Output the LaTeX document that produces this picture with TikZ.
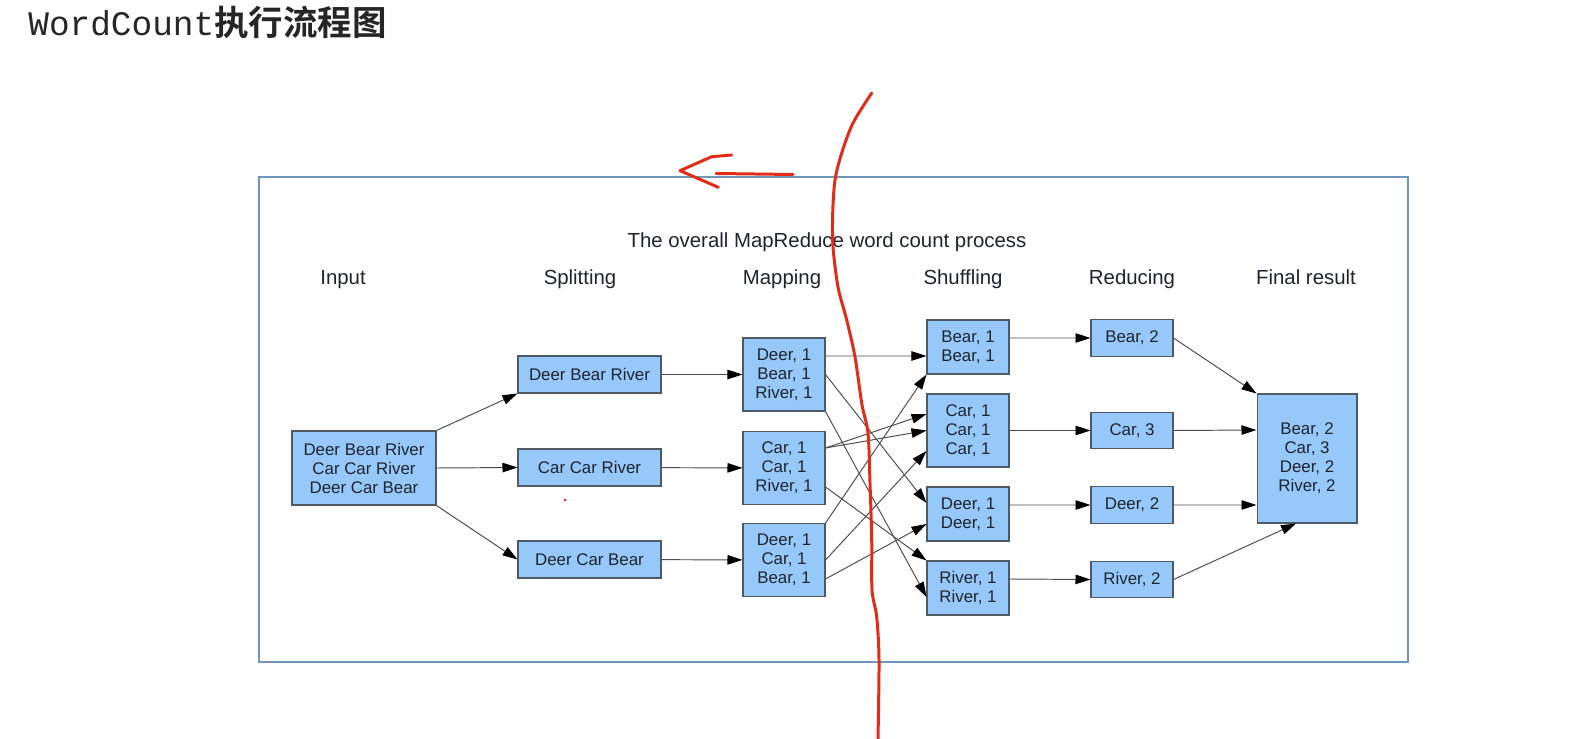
\documentclass[tikz,border=0pt]{standalone}
\usepackage{fontspec}
\setmainfont{Liberation Sans}
\newfontfamily\codefont{Liberation Mono}
\newfontfamily\cjkfont{Noto Sans CJK SC Bold}
\usetikzlibrary{arrows.meta}
\definecolor{boxblue}{RGB}{150,201,250}
\definecolor{boxline}{RGB}{80,90,100}
\definecolor{framec}{RGB}{110,152,187}
\definecolor{inkc}{RGB}{30,36,46}
\definecolor{penred}{RGB}{226,44,24}
\begin{document}
\begin{tikzpicture}[x=0.02cm,y=-0.02cm,
		box/.style={draw=boxline,fill=boxblue,text=inkc,align=center,inner sep=1pt,
			font=\fontsize{9.6}{10.8}\selectfont,line width=0.6pt},
		head/.style={anchor=base,text=inkc,font=\fontsize{11.6}{13}\selectfont},
		flow/.style={-{Triangle[length=0.3cm,width=0.19cm,color=black]},draw=black!70,line width=0.55pt},
		redpen/.style={draw=penred,line width=1.7pt,line cap=round,line join=round}]
		\useasboundingbox (0,0) rectangle (1571,739);
		\node[anchor=base west,inner sep=0pt,text=black!85] (ttl) at (28,36)
			{\fontsize{19.6}{22}\selectfont\codefont WordCount\cjkfont 执行流程图};
		\draw[framec,line width=0.8pt] (259,177) rectangle (1408,662);
		\node[head] (cap) at (827,248) {The overall MapReduce word count process};
		% column heads
		\node[head] (h1) at (343,285) {Input};
		\node[head] (h2) at (580,285) {Splitting};
		\node[head] (h3) at (782,285) {Mapping};
		\node[head] (h4) at (963,285) {Shuffling};
		\node[head] (h5) at (1132,285) {Reducing};
		\node[head] (h6) at (1306,285) {Final result};
		% input and splitting
		\node[box,minimum width=2.88cm,minimum height=1.48cm] (inp) at (364,468) {Deer Bear River\\Car Car River\\Deer Car Bear};
		\begin{scope}[every node/.style={box,minimum width=2.86cm,minimum height=0.74cm}]
			\node (sp1) at (589.5,374.5) {Deer Bear River};
			\node (sp2) at (589.5,467.5) {Car Car River};
			\node (sp3) at (589.5,559.5) {Deer Car Bear};
		\end{scope}
		% mapping
		\begin{scope}[every node/.style={box,minimum width=1.64cm,minimum height=1.46cm}]
			\node (mp1) at (784,374.5) {Deer, 1\\Bear, 1\\River, 1};
			\node (mp2) at (784,468) {Car, 1\\Car, 1\\River, 1};
			\node (mp3) at (784,560) {Deer, 1\\Car, 1\\Bear, 1};
		\end{scope}
		% shuffling
		\begin{scope}[every node/.style={box,minimum width=1.64cm,minimum height=1.08cm}]
			\node (sh1) at (968,347) {Bear, 1\\Bear, 1};
			\node[minimum height=1.46cm] (sh2) at (968,430.5) {Car, 1\\Car, 1\\Car, 1};
			\node (sh3) at (968,514) {Deer, 1\\Deer, 1};
			\node (sh4) at (968,588) {River, 1\\River, 1};
		\end{scope}
		% reducing
		\begin{scope}[every node/.style={box,minimum width=1.64cm,minimum height=0.73cm}]
			\node (rd1) at (1132,338) {Bear, 2};
			\node (rd2) at (1132,430.5) {Car, 3};
			\node (rd3) at (1132,505) {Deer, 2};
			\node (rd4) at (1132,579.5) {River, 2};
		\end{scope}
		\node[box,minimum width=2.0cm,minimum height=2.58cm] (res) at (1307,458.5) {Bear, 2\\Car, 3\\Deer, 2\\River, 2};
		% arrows
		\draw[flow] (inp.north east) -- (sp1.south west);
		\draw[flow] (inp.east) -- (sp2.west);
		\draw[flow] (inp.south east) -- (sp3.west);
		\draw[flow] (sp1) -- (mp1);
		\draw[flow] (sp2) -- (mp2);
		\draw[flow] (sp3) -- (mp3);
		\draw[flow] ([yshift=0.37cm]mp1.east) -- ([yshift=-0.18cm]sh1.west);
		\draw[flow] (mp1.east) -- ([yshift=0.22cm]sh3.west);
		\draw[flow] (mp1.south east) -- ([yshift=-0.18cm]sh4.west);
		\draw[flow] ([yshift=0.40cm]mp2.east) -- ([yshift=0.33cm]sh2.west);
		\draw[flow] ([yshift=0.40cm]mp2.east) -- (sh2.west);
		\draw[flow] ([yshift=-0.38cm]mp2.east) -- (sh4.north west);
		\draw[flow] (mp3.north east) -- (sh1.south west);
		\draw[flow] (mp3.east) -- ([yshift=-0.41cm]sh2.west);
		\draw[flow] ([yshift=-0.38cm]mp3.east) -- ([yshift=-0.2cm]sh3.west);
		\draw[flow] ([yshift=0.18cm]sh1.east) -- (rd1.west);
		\draw[flow] (sh2.east) -- (rd2.west);
		\draw[flow] ([yshift=0.18cm]sh3.east) -- (rd3.west);
		\draw[flow] ([yshift=0.18cm]sh4.east) -- (rd4.west);
		\draw[flow] (rd1.east) -- (res.north west);
		\draw[flow] (rd2.east) -- ([yshift=0.57cm]res.west);
		\draw[flow] (rd3.east) -- ([yshift=-0.93cm]res.west);
		\draw[flow] (rd4.east) -- ([xshift=-0.22cm]res.south);
		% red pen marks
		\draw[redpen] plot[smooth] coordinates {(871.7,93) (853,123) (841.7,153) (835,180) (832.7,213)
			(833,247) (838,287) (846.7,320) (855,357) (862,405) (868,433) (870,483) (871.7,540)
			(872,590) (876.7,617) (879,660) (878,739)};
		\draw[redpen] (731.7,155) -- (711.7,156.7) -- (680,170.7) -- (718.3,187.3);
		\draw[redpen] (716,173.5) -- (793,174.5);
		\fill[penred] (565,500) circle (1.5);
	\end{tikzpicture}
\end{document}
